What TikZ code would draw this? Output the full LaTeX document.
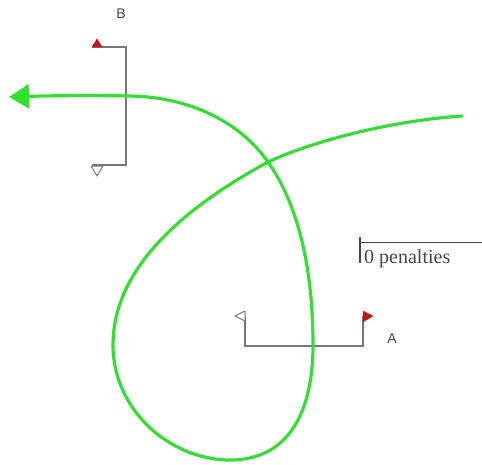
\documentclass[tikz,border=0pt]{standalone}
\usepackage{fontspec}
\setmainfont{Liberation Serif}
\setsansfont{Liberation Sans}
\usetikzlibrary{arrows.meta}
\definecolor{curvegreen}{RGB}{55,220,55}
\definecolor{linegray}{RGB}{120,120,120}
\definecolor{txtgray}{RGB}{70,70,70}
\definecolor{flagred}{RGB}{200,20,20}
\tikzset{
  bracket/.style={draw=linegray, line width=1.2pt},
  redflag/.style={fill=flagred, draw=flagred, line width=0.4pt, line join=round},
  whiteflag/.style={fill=white, draw=linegray, line width=1pt, line join=round},
  lbl/.style={font=\sffamily\fontsize{14}{14}\selectfont, text=txtgray, inner sep=0pt},
  pen/.style={font=\rmfamily\fontsize{20}{20}\selectfont, text=txtgray, inner sep=0pt, anchor=base west},
  route/.style={draw=curvegreen, line width=3.2pt, line cap=round, -{Triangle[length=20pt,width=24pt,fill=curvegreen!60!green]}}
}
\begin{document}
\begin{tikzpicture}[x=1pt,y=-1pt]
\useasboundingbox (0,0) rectangle (482,464);
% labels
\node[lbl] (B) at (121,14) {B};
\node[lbl] (A) at (392,339) {A};
% B bracket
\coordinate (b1) at (92,47);
\coordinate (b2) at (126,47);
\coordinate (b3) at (126,165);
\coordinate (b4) at (92,165);
\draw[bracket] (b1) -- (b2) -- (b3) -- (b4);
\draw[redflag] (92,47) -- (97,39) -- (102,47) -- cycle;
\draw[whiteflag] (91,166) -- (103,166) -- (97,176) -- cycle;
% A bracket
\coordinate (a1) at (245,316);
\coordinate (a2) at (245,346);
\coordinate (a3) at (363,346);
\coordinate (a4) at (363,316);
\draw[bracket] (a1) -- (a2) -- (a3) -- (a4);
\draw[whiteflag] (245,311) -- (235,316) -- (245,321) -- cycle;
\draw[redflag] (363,311) -- (373,316) -- (363,322) -- cycle;
% penalties
\coordinate (p0) at (360,242);
\coordinate (p1) at (482,242);
\coordinate (t0) at (360,237);
\coordinate (t1) at (360,263);
\draw[draw=txtgray, line width=1pt] (p0) -- (p1);
\draw[draw=txtgray, line width=2pt] (t0) -- (t1);
\node[pen] (pen) at (364,263) {0 penalties};
% route
\coordinate (r0) at (462,116);
\coordinate (rx) at (268,162);
\coordinate (rl) at (113,345);
\coordinate (rb) at (230,460);
\coordinate (rr) at (313,345);
\coordinate (ru) at (130,96);
\coordinate (rend) at (9,97);
\draw[route] (r0) .. controls (400,120) and (320,138) .. (rx)
  .. controls (180,210) and (113,270) .. (rl)
  .. controls (113,410) and (170,460) .. (rb)
  .. controls (290,460) and (313,410) .. (rr)
  .. controls (313,260) and (295,200) .. (rx)
  .. controls (240,122) and (190,97) .. (ru)
  .. controls (80,95) and (40,96) .. (rend);
\end{tikzpicture}
\end{document}
